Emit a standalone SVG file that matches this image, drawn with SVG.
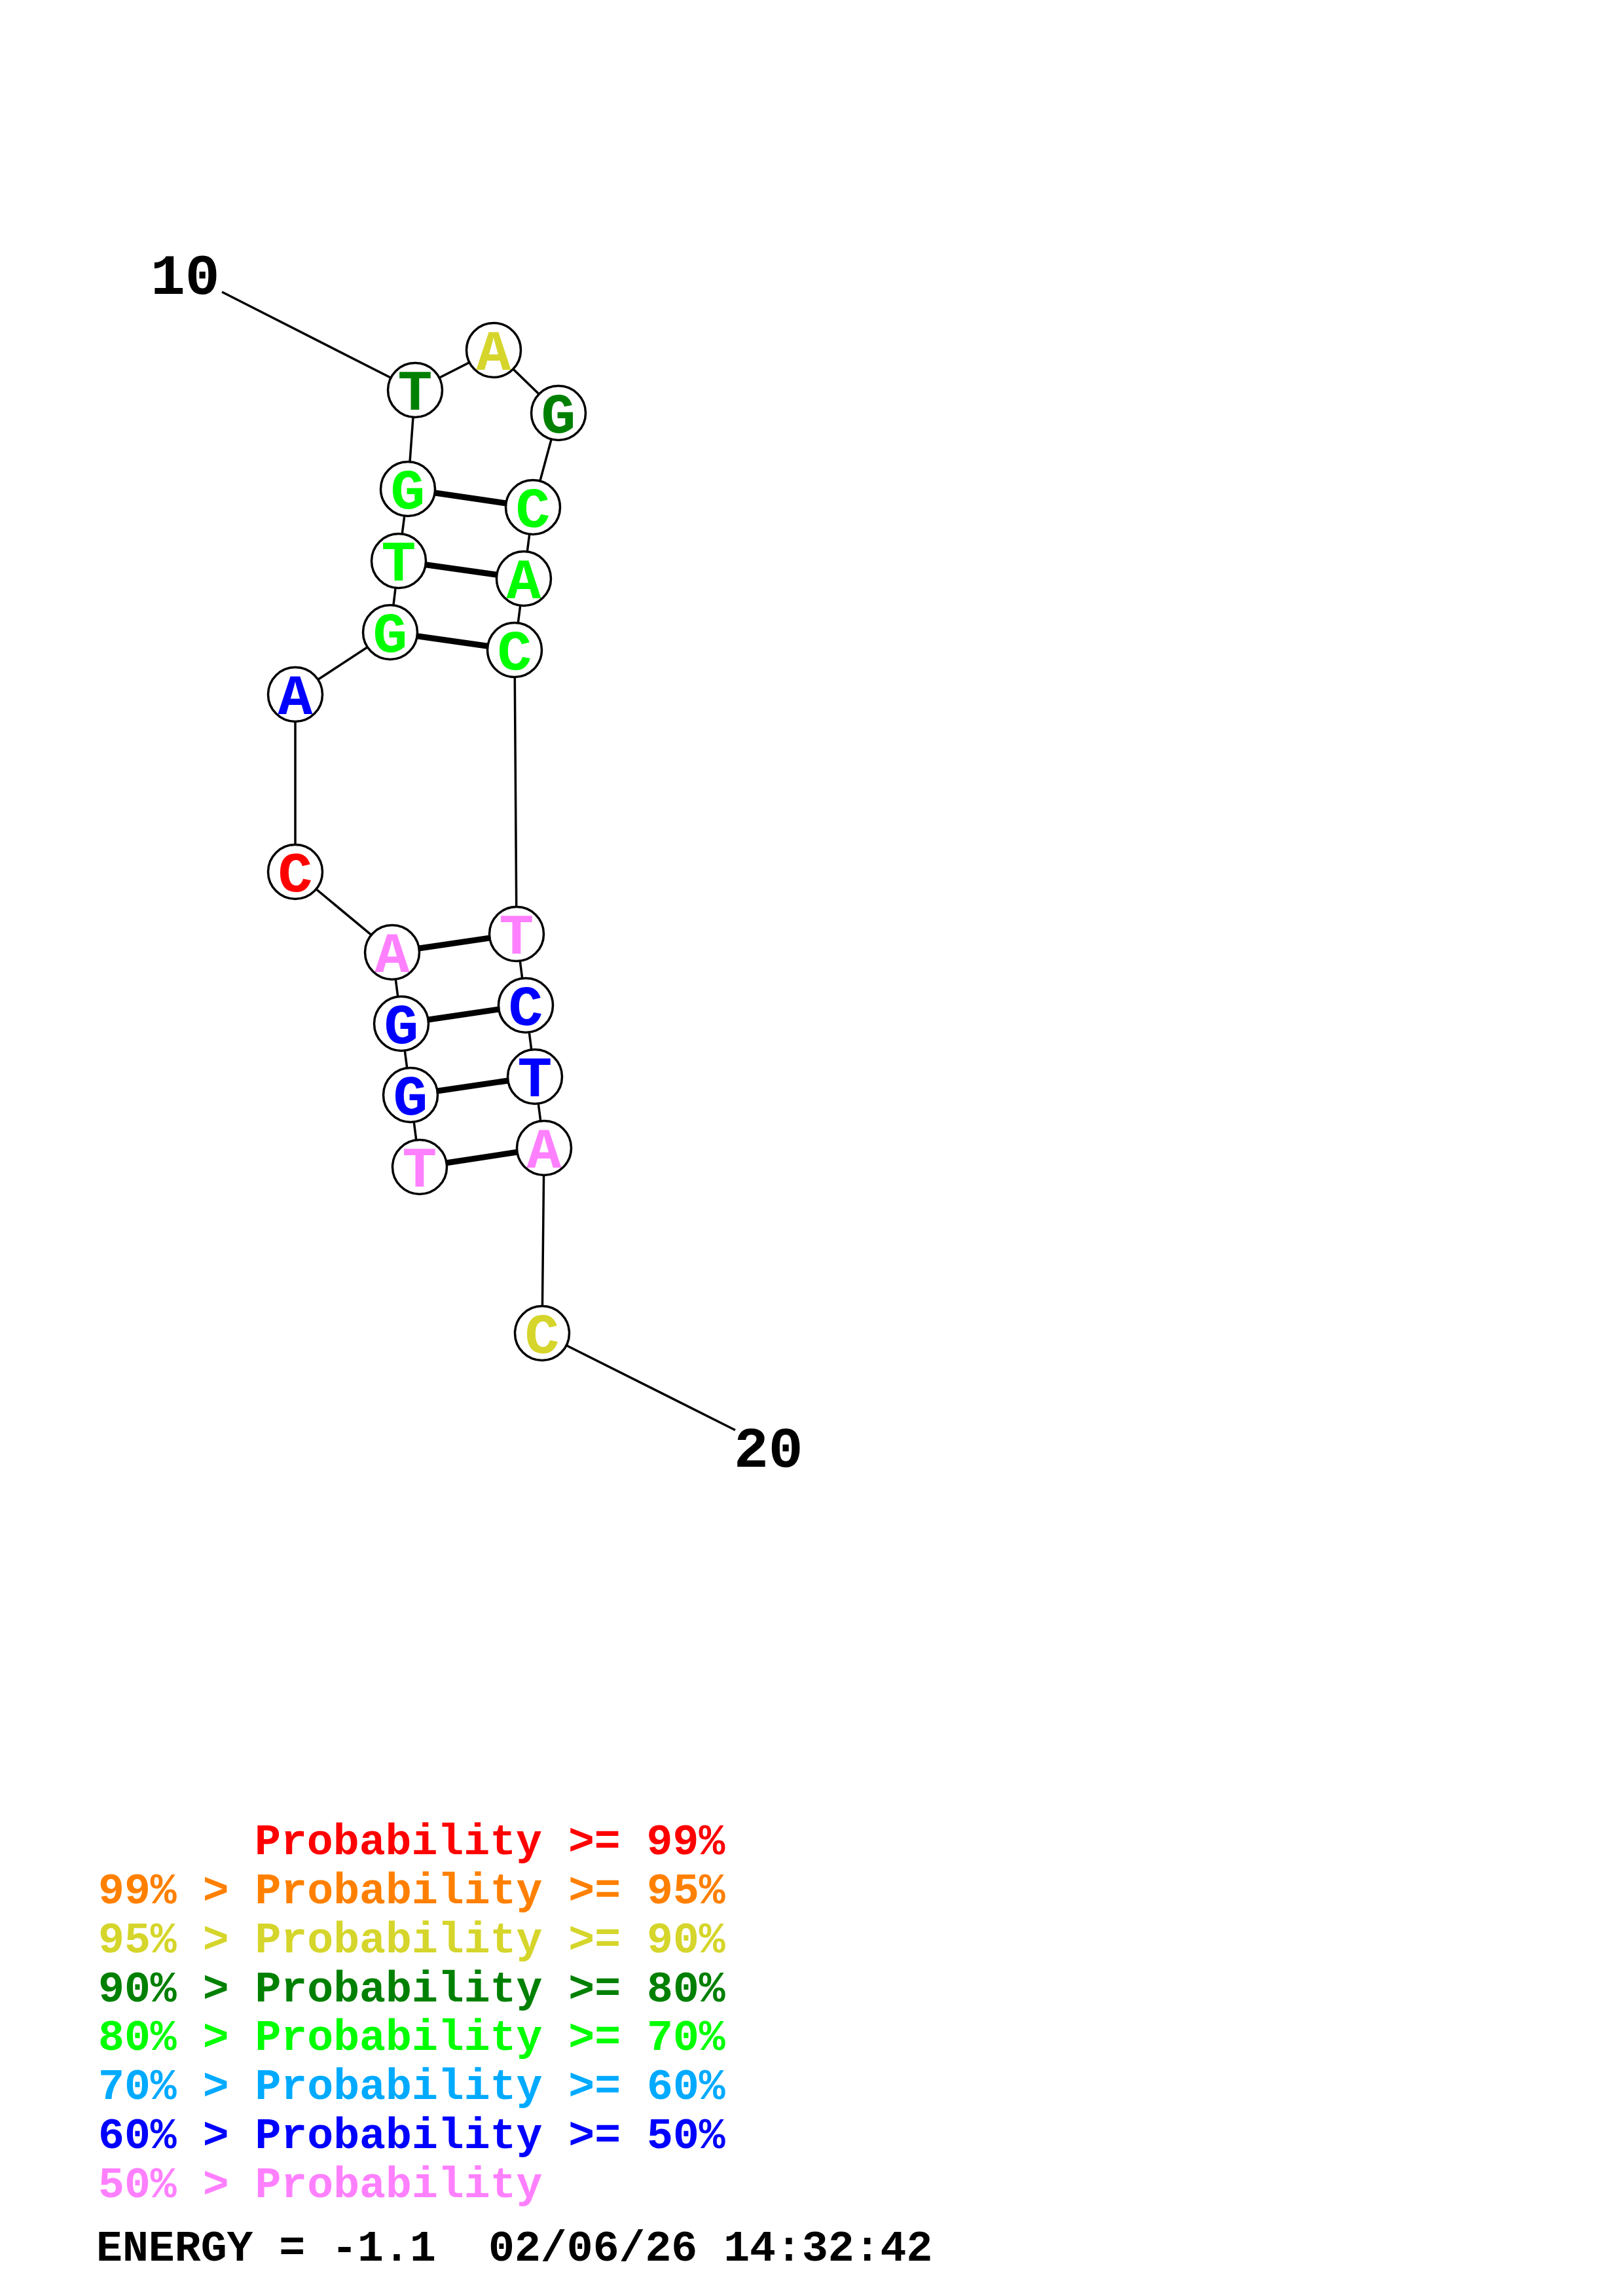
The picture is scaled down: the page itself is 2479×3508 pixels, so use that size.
<svg xmlns="http://www.w3.org/2000/svg" width="2479" height="3508" viewBox="0 0 2479 3508">
<style>
.bb{stroke:#000;stroke-width:3.5;fill:none}
.bp{stroke:#000;stroke-width:9;fill:none}
.nc{fill:#fff;stroke:#000;stroke-width:3.5}
.nt{font-family:"Liberation Mono","Courier New",monospace;font-weight:bold;font-size:88px;text-anchor:middle}
.lb{font-family:"Liberation Mono","Courier New",monospace;font-weight:bold;font-size:88px;fill:#000}
.lg{font-family:"Liberation Mono","Courier New",monospace;font-weight:bold;font-size:66.5px}
.red{fill:#ff0000}.org{fill:#ff8000}.yel{fill:#d5d52b}.dgr{fill:#008000}.grn{fill:#00ff00}.lbl{fill:#00aaff}.blu{fill:#0000ff}.pnk{fill:#ff80ff}
</style>
<rect width="2479" height="3508" fill="#fff"/>
<g id="connectors">
<line class="bb" x1="339" y1="446" x2="634" y2="596"/>
<line class="bb" x1="828" y1="2037" x2="1123" y2="2185"/>
<polyline class="bb" points="641,1783 627,1673 613,1564 599,1455 451,1332 451,1061 596,966 609,857 623,747 634,596 754,535 853,631 814,775 800,884 786,993 789,1427 803,1536 817,1645 831,1754 828,2037"/>
<line class="bp" x1="641" y1="1783" x2="831" y2="1754"/>
<line class="bp" x1="627" y1="1673" x2="817" y2="1645"/>
<line class="bp" x1="613" y1="1564" x2="803" y2="1536"/>
<line class="bp" x1="599" y1="1455" x2="789" y2="1427"/>
<line class="bp" x1="596" y1="966" x2="786" y2="993"/>
<line class="bp" x1="609" y1="857" x2="800" y2="884"/>
<line class="bp" x1="623" y1="747" x2="814" y2="775"/>
</g>
<g id="n1"><circle class="nc" cx="641" cy="1783" r="41.5"/><text class="nt pnk" x="641" y="1813">T</text></g>
<g id="n2"><circle class="nc" cx="627" cy="1673" r="41.5"/><text class="nt blu" x="627" y="1703">G</text></g>
<g id="n3"><circle class="nc" cx="613" cy="1564" r="41.5"/><text class="nt blu" x="613" y="1594">G</text></g>
<g id="n4"><circle class="nc" cx="599" cy="1455" r="41.5"/><text class="nt pnk" x="599" y="1485">A</text></g>
<g id="n5"><circle class="nc" cx="451" cy="1332" r="41.5"/><text class="nt red" x="451" y="1362">C</text></g>
<g id="n6"><circle class="nc" cx="451" cy="1061" r="41.5"/><text class="nt blu" x="451" y="1091">A</text></g>
<g id="n7"><circle class="nc" cx="596" cy="966" r="41.5"/><text class="nt grn" x="596" y="996">G</text></g>
<g id="n8"><circle class="nc" cx="609" cy="857" r="41.5"/><text class="nt grn" x="609" y="887">T</text></g>
<g id="n9"><circle class="nc" cx="623" cy="747" r="41.5"/><text class="nt grn" x="623" y="777">G</text></g>
<g id="n10"><circle class="nc" cx="634" cy="596" r="41.5"/><text class="nt dgr" x="634" y="626">T</text></g>
<g id="n11"><circle class="nc" cx="754" cy="535" r="41.5"/><text class="nt yel" x="754" y="565">A</text></g>
<g id="n12"><circle class="nc" cx="853" cy="631" r="41.5"/><text class="nt dgr" x="853" y="661">G</text></g>
<g id="n13"><circle class="nc" cx="814" cy="775" r="41.5"/><text class="nt grn" x="814" y="805">C</text></g>
<g id="n14"><circle class="nc" cx="800" cy="884" r="41.5"/><text class="nt grn" x="800" y="914">A</text></g>
<g id="n15"><circle class="nc" cx="786" cy="993" r="41.5"/><text class="nt grn" x="786" y="1023">C</text></g>
<g id="n16"><circle class="nc" cx="789" cy="1427" r="41.5"/><text class="nt pnk" x="789" y="1457">T</text></g>
<g id="n17"><circle class="nc" cx="803" cy="1536" r="41.5"/><text class="nt blu" x="803" y="1566">C</text></g>
<g id="n18"><circle class="nc" cx="817" cy="1645" r="41.5"/><text class="nt blu" x="817" y="1675">T</text></g>
<g id="n19"><circle class="nc" cx="831" cy="1754" r="41.5"/><text class="nt pnk" x="831" y="1784">A</text></g>
<g id="n20"><circle class="nc" cx="828" cy="2037" r="41.5"/><text class="nt yel" x="828" y="2067">C</text></g>
<g id="labels">
<text class="lb" x="230" y="449">10</text>
<text class="lb" x="1121" y="2241">20</text>
</g>
<g id="legend">
<text class="lg red" x="389" y="2833">Probability &gt;= 99%</text>
<text class="lg org" x="150" y="2908">99% &gt; Probability &gt;= 95%</text>
<text class="lg yel" x="150" y="2983">95% &gt; Probability &gt;= 90%</text>
<text class="lg dgr" x="150" y="3058">90% &gt; Probability &gt;= 80%</text>
<text class="lg grn" x="150" y="3132">80% &gt; Probability &gt;= 70%</text>
<text class="lg lbl" x="150" y="3207">70% &gt; Probability &gt;= 60%</text>
<text class="lg blu" x="150" y="3282">60% &gt; Probability &gt;= 50%</text>
<text class="lg pnk" x="150" y="3357">50% &gt; Probability</text>
<text class="lg" fill="#000" y="3454"><tspan x="147">ENERGY = -1.1</tspan><tspan x="746">02/06/26 14:32:42</tspan></text>
</g>
</svg>
